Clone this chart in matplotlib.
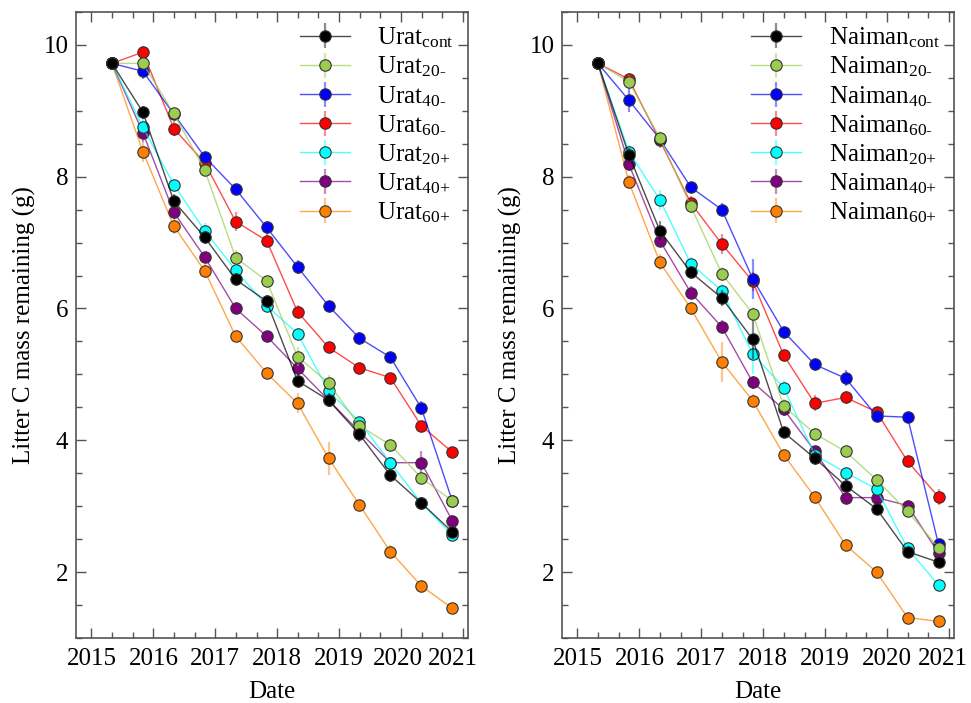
import matplotlib
matplotlib.use('Agg')
import matplotlib.pyplot as plt
from matplotlib.colors import to_rgba
from matplotlib.ticker import MultipleLocator
from matplotlib.transforms import ScaledTranslation

# DATA
dates = [2015.33, 2015.83, 2016.33, 2016.83, 2017.33, 2017.83,
         2018.33, 2018.83, 2019.33, 2019.83, 2020.33, 2020.83]
treatments = ['cont', '20-', '40-', '60-', '20+', '40+', '60+']
colors = ['#000000', '#9acd50', '#0000ff', '#ff0000', '#00ffff', '#800080', '#ff8000']

urat_cont = [9.72, 8.98, 7.63, 7.08, 6.44, 6.11, 4.90, 4.61, 4.09, 3.47, 3.05, 2.61]
urat_20m = [9.72, 9.72, 8.96, 8.10, 6.77, 6.42, 5.27, 4.87, 4.22, 3.93, 3.43, 3.08]
urat_40m = [9.72, 9.60, 8.95, 8.30, 7.81, 7.23, 6.63, 6.04, 5.55, 5.26, 4.49, 3.08]
urat_60m = [9.72, 9.89, 8.73, 8.21, 7.32, 7.03, 5.95, 5.41, 5.10, 4.95, 4.22, 3.82]
urat_20p = [9.72, 8.75, 7.88, 7.18, 6.58, 6.04, 5.62, 4.75, 4.28, 3.66, 3.05, 2.56]
urat_40p = [9.72, 8.67, 7.46, 6.78, 6.00, 5.58, 5.09, 4.61, 4.13, 3.66, 3.66, 2.78]
urat_60p = [9.72, 8.38, 7.25, 6.57, 5.58, 5.02, 4.56, 3.73, 3.02, 2.31, 1.79, 1.45]

urat_err = [
    [0, 0.10, 0.10, 0.10, 0.10, 0.10, 0.10, 0.10, 0.12, 0.10, 0.05, 0.08],
    [0, 0.05, 0.10, 0.08, 0.12, 0.05, 0.15, 0.12, 0.10, 0.05, 0.05, 0.08],
    [0, 0.12, 0.05, 0.08, 0.05, 0.10, 0.10, 0.08, 0.10, 0.05, 0.10, 0.08],
    [0, 0.10, 0.12, 0.05, 0.15, 0.10, 0.10, 0.08, 0.08, 0.05, 0.08, 0.06],
    [0, 0.15, 0.08, 0.12, 0.08, 0.10, 0.08, 0.10, 0.08, 0.05, 0.05, 0.06],
    [0, 0.15, 0.10, 0.08, 0.08, 0.06, 0.08, 0.08, 0.10, 0.05, 0.18, 0.08],
    [0, 0.15, 0.12, 0.10, 0.05, 0.06, 0.15, 0.25, 0.08, 0.10, 0.06, 0.05],
]

naiman_cont = [9.72, 8.33, 7.18, 6.55, 6.16, 5.53, 4.12, 3.73, 3.31, 2.96, 2.31, 2.15]
naiman_20m = [9.72, 9.44, 8.59, 7.55, 6.53, 5.92, 4.52, 4.10, 3.83, 3.40, 2.92, 2.37]
naiman_40m = [9.72, 9.16, 8.57, 7.84, 7.50, 6.45, 5.65, 5.15, 4.94, 4.37, 4.35, 2.42]
naiman_60m = [9.72, 9.48, 8.55, 7.60, 6.98, 6.41, 5.29, 4.56, 4.65, 4.43, 3.68, 3.14]
naiman_20p = [9.72, 8.38, 7.65, 6.68, 6.27, 5.31, 4.80, 3.78, 3.51, 3.26, 2.36, 1.80]
naiman_40p = [9.72, 8.19, 7.03, 6.24, 5.72, 4.88, 4.47, 3.84, 3.13, 3.13, 3.01, 2.29]
naiman_60p = [9.72, 7.92, 6.70, 6.00, 5.19, 4.60, 3.78, 3.14, 2.41, 2.00, 1.31, 1.25]

naiman_err = [
    [0, 0.10, 0.15, 0.10, 0.12, 0.30, 0.08, 0.10, 0.10, 0.10, 0.05, 0.08],
    [0, 0.10, 0.10, 0.10, 0.10, 0.10, 0.10, 0.08, 0.08, 0.06, 0.06, 0.08],
    [0, 0.18, 0.05, 0.08, 0.10, 0.30, 0.08, 0.10, 0.12, 0.05, 0.08, 0.08],
    [0, 0.10, 0.12, 0.10, 0.15, 0.15, 0.08, 0.12, 0.10, 0.08, 0.05, 0.12],
    [0, 0.10, 0.15, 0.10, 0.10, 0.30, 0.12, 0.08, 0.08, 0.05, 0.05, 0.06],
    [0, 0.10, 0.10, 0.10, 0.10, 0.10, 0.10, 0.08, 0.05, 0.05, 0.08, 0.05],
    [0, 0.10, 0.12, 0.10, 0.30, 0.10, 0.08, 0.08, 0.05, 0.05, 0.05, 0.05],
]

year_ticks = [2015, 2016, 2017, 2018, 2019, 2020, 2021]

urat = [urat_cont, urat_20m, urat_40m, urat_60m, urat_20p, urat_40p, urat_60p]
naiman = [naiman_cont, naiman_20m, naiman_40m, naiman_60m, naiman_20p, naiman_40p, naiman_60p]

plt.rcParams['font.family'] = ['Liberation Serif', 'DejaVu Serif']
plt.rcParams['mathtext.fontset'] = 'custom'
plt.rcParams['mathtext.rm'] = 'Liberation Serif'
plt.rcParams['mathtext.it'] = 'Liberation Serif:italic'
plt.rcParams['mathtext.bf'] = 'Liberation Serif:bold'


def draw_panel(ax, site, series, errors, label_shift):
    n = len(series)
    # later treatments are drawn first so the control ends on top
    for i in range(n):
        vals, err, trt, col = series[i], errors[i], treatments[i], colors[i]
        ax.errorbar(dates, vals, yerr=err, color=to_rgba(col, 0.7),
                    ecolor=to_rgba(col, 0.45), elinewidth=1.6,
                    capsize=0, lw=1.0, marker='o', ms=8.2, mfc=col,
                    mec='#333333', mew=0.8, zorder=3 + (n - i) * 0.1,
                    label=site + r'$_{\text{' + trt + '}}$')

    ax.set_xlim(2014.75, 2021.08)
    ax.set_ylim(1.0, 10.5)
    ax.set_xticks(year_ticks)
    ax.set_xticklabels([str(y) for y in year_ticks])
    ax.xaxis.set_minor_locator(MultipleLocator(1 / 3))
    ax.set_yticks([2, 4, 6, 8, 10])
    ax.yaxis.set_minor_locator(MultipleLocator(0.5))
    ax.tick_params(which='both', direction='in', top=True, right=True,
                   labelsize=18, color='#555555', width=1.0)
    ax.tick_params(axis='x', which='major', length=7.5, pad=7)
    ax.tick_params(axis='y', which='major', length=7.5, pad=5.5)
    ax.tick_params(which='minor', length=4)
    for sp in ax.spines.values():
        sp.set_color('#555555')
        sp.set_linewidth(1.2)

    for lab, dx in zip(ax.get_xticklabels(), label_shift):
        lab.set_transform(lab.get_transform() + ScaledTranslation(dx / 100, 0, ax.figure.dpi_scale_trans))

    ax.set_xlabel('Date', fontsize=18, labelpad=8)
    ax.set_ylabel('Litter C mass remaining (g)', fontsize=18, labelpad=5)
    ax.legend(loc='upper right', frameon=False, fontsize=18, handlelength=2.0,
              handletextpad=1.1, labelspacing=0.18, borderaxespad=0.1, borderpad=0.45)


fig = plt.figure(figsize=(9.71, 7.03), dpi=100)
ax1 = fig.add_axes([0.0783, 0.0925, 0.4034, 0.8905])
ax2 = fig.add_axes([0.5788, 0.0925, 0.4037, 0.8905])

draw_panel(ax1, 'Urat', urat, urat_err, [0, 0, 0, 0, 0, -3, -10])
draw_panel(ax2, 'Naiman', naiman, naiman_err, [0, 0, 0, 0, 0, 0, -6])

fig.savefig('out.png', dpi=100)
